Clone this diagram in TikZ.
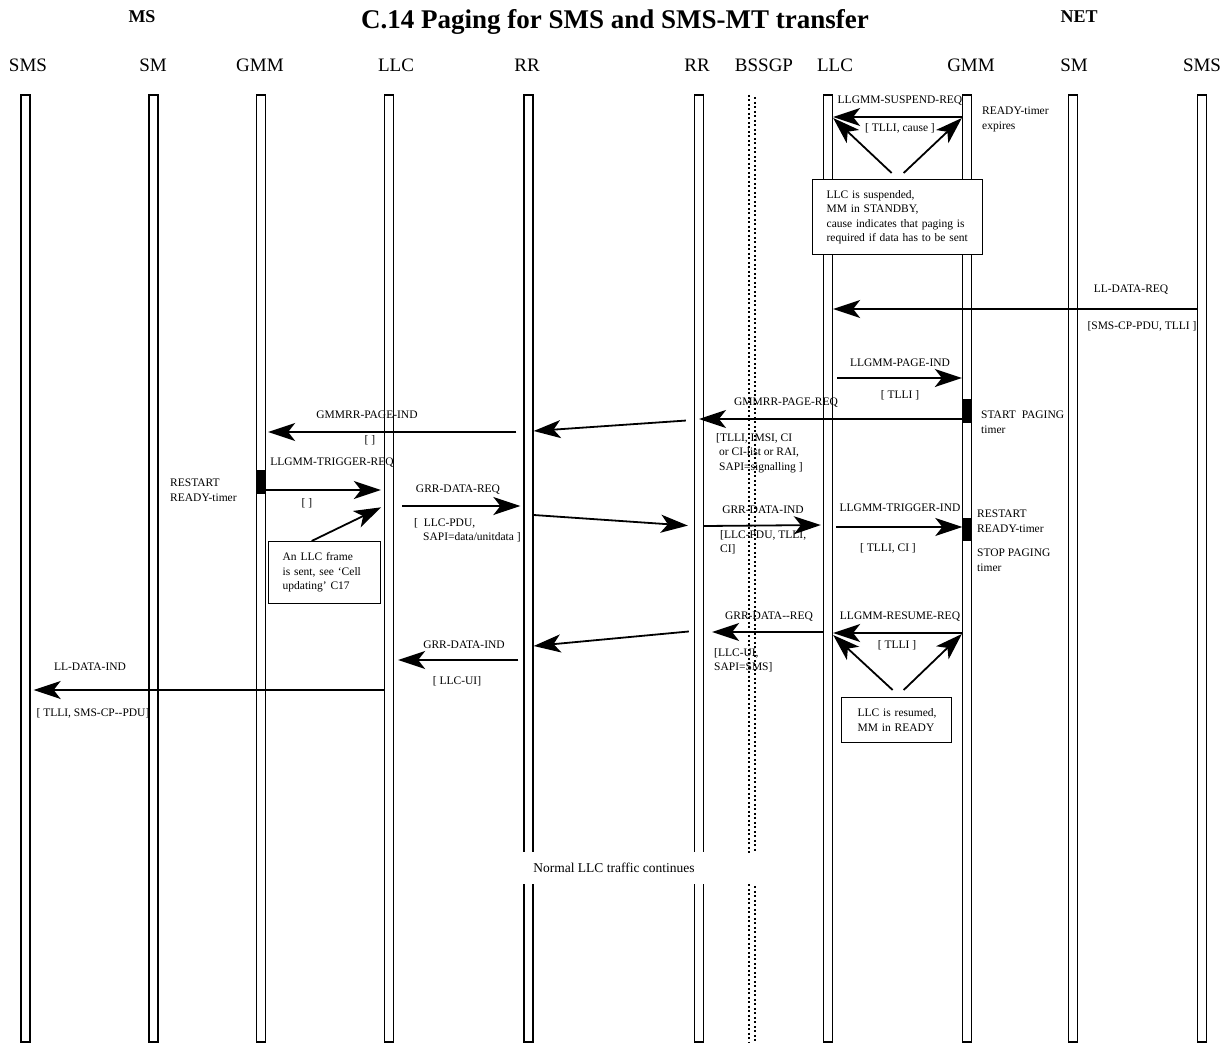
\documentclass[tikz,border=0pt]{standalone}
\usepackage{fontspec}
\setmainfont{Liberation Serif}
\usetikzlibrary{arrows.meta,positioning,calc}

\begin{document}
\begin{tikzpicture}[x=1pt, y=-1pt, font=\fontsize{11.5}{14.5}\selectfont,
  life/.style={draw, line width=1.3pt, fill=white, minimum width=9pt, minimum height=947pt, inner sep=0pt},
  head/.style={font=\fontsize{19}{22}\selectfont},
  side/.style={font=\fontsize{18}{21}\selectfont\bfseries},
  msg/.style={line width=1.8pt, -{Stealth[length=27pt, width=18pt, inset=7pt]}},
  lbl/.style={inner sep=0pt},
  parm/.style={inner sep=0pt, align=left, anchor=north west},
  box/.style={draw, line width=1.3pt, fill=white, align=left, anchor=north west, inner ysep=0pt},
  bar/.style={fill=black, minimum width=9pt, inner sep=0pt},
  bss/.style={line width=2.4pt, dash pattern=on 2pt off 2.5pt}]
\useasboundingbox (0,0) rectangle (1231,1046);
\node[font=\fontsize{27}{30}\selectfont\bfseries] (title) at (615,22) {C.14 Paging for SMS and SMS-MT transfer};
\node[side] (ms) at (142,17) {MS};
\node[side] (net) at (1079,17) {NET};
\foreach \name/\x/\txt in {hSmsM/28/SMS, hSmM/153/SM, hGmmM/260/GMM, hLlcM/396/LLC, hRrM/527/RR, hRrN/697/RR, hBss/764/BSSGP, hLlcN/835/LLC, hGmmN/971/GMM, hSmN/1074/SM, hSmsN/1202/SMS}
  \node[head] (\name) at (\x,65) {\txt};
\foreach \name/\x in {smsM/25.5, smM/153.5, gmmM/261, llcM/389, rrM/528.5, rrN/699, llcN/828, gmmN/967, smN/1073, smsN/1202}
  \node[life] (\name) at (\x,568.5) {};
\draw[bss] (749,95) -- (749,853) (749,884) -- (749,1042);
\draw[bss, dash phase=2.2pt] (755,95) -- (755,853) (755,884) -- (755,1042);
\node[fill=white, minimum width=186pt, minimum height=32pt, inner sep=0pt, font=\fontsize{13.5}{16}\selectfont] (normal) at (614,868) {Normal LLC traffic continues};
\node[bar, minimum height=24pt] (pageBar) at (967,411) {};
\node[bar, minimum height=24pt] (trigBar) at (261,482) {};
\node[bar, minimum height=23pt] (readyBar) at (967,529.5) {};

\draw[msg] (gmmN.west |- 0,117) -- (llcN.east |- 0,117);
\node[lbl] (suspReq) at (900,101) {LLGMM-SUSPEND-REQ};
\node[lbl] (suspPar) at (900,128) {[ TLLI, cause ]};
\node[parm] (expires) at (982,107) {READY-timer\\expires};
\node[box, text width=142pt, inner xsep=14pt, minimum height=75pt] (suspBox) at (812,179) {LLC is suspended,\\MM in STANDBY,\\cause indicates that paging is\\required if data has to be sent};
\draw[msg] ([xshift=-6pt, yshift=6pt]suspBox.north) -- (llcN.east |- 0,118);
\draw[msg] ([xshift=6pt, yshift=6pt]suspBox.north) -- (gmmN.west |- 0,118);

\draw[msg] (smsN.west |- 0,309) -- (llcN.east |- 0,309);
\node[lbl] (dataReq) at (1131,290) {LL-DATA-REQ};
\node[lbl] (dataReqPar) at (1142,326) {[SMS-CP-PDU, TLLI ]};
\draw[msg, shorten <=4pt] (llcN.east |- 0,378) -- (gmmN.west |- 0,378);
\node[lbl] (pageInd) at (900,363) {LLGMM-PAGE-IND};
\node[lbl] (pageIndPar) at (900,395) {[ TLLI ]};
\node[parm] (startPg) at (981,411) {START\ \ PAGING\\timer};
\draw[msg] (pageBar.west |- 0,419) -- (rrN.center |- 0,419);
\node[lbl] (pageReq) at (786,403) {GMMRR-PAGE-REQ};
\node[parm] (pageReqPar) at (716,433) {[TLLI, IMSI, CI\\\hspace{3pt}or CI-list or RAI,\\\hspace{3pt}SAPI=signalling ]};
\draw[msg, shorten <=8pt] (rrN.west |- 0,420) -- (rrM.east |- 0,431);
\draw[msg, shorten <=7pt, shorten >=2pt] (rrM.west |- 0,432) -- (gmmM.east |- 0,432);
\node[lbl] (pageIndM) at (367,415) {GMMRR-PAGE-IND};
\node[lbl] (pageIndMPar) at (370,440) {[ ]};

\draw[msg, shorten >=3pt] (trigBar.east |- 0,490) -- (llcM.west |- 0,490);
\node[lbl] (trigReq) at (332,463) {LLGMM-TRIGGER-REQ};
\node[lbl] (trigReqPar) at (307,503) {[ ]};
\node[parm] (restartM) at (170,479) {RESTART\\READY-timer};
\node[box, text width=84pt, inner xsep=14pt, minimum height=62pt] (frameBox) at (268,541) {An LLC frame\\is sent, see `Cell\\updating' C17};
\draw[msg, shorten >=3pt] ([xshift=-13pt]frameBox.north) -- (llcM.west |- 0,506);
\draw[msg, shorten <=8pt, shorten >=3pt] (llcM.east |- 0,506) -- (rrM.west |- 0,506);
\node[lbl] (grrReq) at (458,490) {GRR-DATA-REQ};
\node[parm] (grrReqPar) at (414,518) {[\ \ LLC-PDU,\\\hspace{9pt}SAPI=data/unitdata ]};
\draw[msg, shorten >=6pt] (rrM.east |- 0,515) -- (rrN.west |- 0,526);
\draw[msg, shorten >=2pt] (rrN.east |- 0,526) -- (llcN.west |- 0,525);
\node[lbl] (grrInd) at (763,510) {GRR-DATA-IND};
\node[parm] (grrIndPar) at (720,530) {[LLC-PDU, TLLI,\\CI]};
\draw[msg, shorten <=3pt] (llcN.east |- 0,527) -- (readyBar.west |- 0,527);
\node[lbl] (trigInd) at (900,508) {LLGMM-TRIGGER-IND};
\node[lbl] (trigIndPar) at (888,548) {[ TLLI, CI ]};
\node[parm] (restartN) at (977,510) {RESTART\\READY-timer\\[10pt]STOP PAGING\\timer};

\draw[msg, shorten >=8pt] (llcN.west |- 0,632) -- (rrN.east |- 0,632);
\node[lbl] (grrReqN) at (769,617) {GRR-DATA-{}-REQ};
\node[parm] (grrReqNPar) at (714,648) {[LLC-UI,\\SAPI=SMS]};
\draw[msg] (gmmN.west |- 0,633) -- (llcN.east |- 0,633);
\node[lbl] (resume) at (900,617) {LLGMM-RESUME-REQ};
\node[lbl] (resumePar) at (897,645) {[ TLLI ]};
\node[box, text width=86pt, inner xsep=12pt, minimum height=45pt] (resumeBox) at (841,697) {\hspace{4pt}LLC is resumed,\\\hspace{4pt}MM in READY};
\draw[msg] ([xshift=-4pt, yshift=7pt]resumeBox.north) -- (llcN.east |- 0,635);
\draw[msg] ([xshift=7pt, yshift=7pt]resumeBox.north) -- (gmmN.west |- 0,634);
\draw[msg, shorten <=5pt] (rrN.west |- 0,631) -- (rrM.east |- 0,646);
\draw[msg, shorten <=5pt, shorten >=4pt] (rrM.west |- 0,660) -- (llcM.east |- 0,660);
\node[lbl] (grrIndM) at (464,645) {GRR-DATA-IND};
\node[lbl] (grrIndMPar) at (457,681) {[ LLC-UI]};
\draw[msg, shorten >=3pt] (llcM.west |- 0,690) -- (smsM.east |- 0,690);
\node[lbl] (dataInd) at (90,667) {LL-DATA-IND};
\node[lbl] (dataIndPar) at (93,713) {[ TLLI, SMS-CP-{}-PDU]};
\end{tikzpicture}
\end{document}
